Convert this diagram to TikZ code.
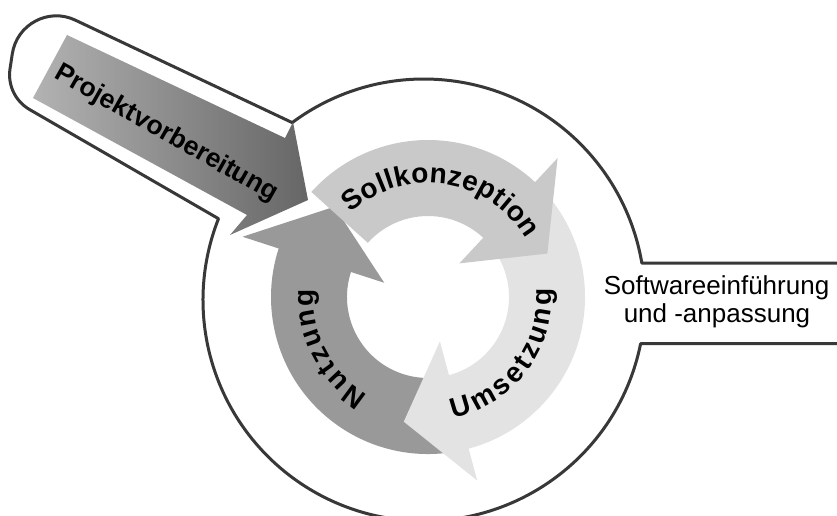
\documentclass[tikz,border=0pt]{standalone}
\usepackage{fontspec}
\newfontfamily\lblfamily{Liberation Sans}
\newcommand\ringfont{\lblfamily\bfseries\fontsize{28}{32}\selectfont}
\newcommand\pvfont{\lblfamily\bfseries\fontsize{26.5}{30}\selectfont}
\newcommand\swfont{\lblfamily\fontsize{26}{29}\selectfont}
\usetikzlibrary{decorations.text}
\begin{document}
\begin{tikzpicture}[x=1pt,y=1pt,
  outline/.style={draw=black!78, line width=3pt, line join=round},
  nutfill/.style={fill=black!40},
  umsfill/.style={fill=black!11},
  sollfill/.style={fill=black!21},
]
\clip (0,0) rectangle (837,-516);
\fill[white] (0,0) rectangle (837,-516);

% outer outline: big circle with the two callouts
\draw[outline] (292.2,-122.6) arc[start angle=126.6, end angle=9.6, radius=221]
  -- (850,-263.1) -- (850,-343.7) -- (640.6,-343.7)
  arc[start angle=-11.4, end angle=-201.6, radius=221]
  -- (29.7,-109.6) .. controls (15.4,-101.4) and (7.6,-85.3) .. (10,-69)
  -- (12.3,-53.8) .. controls (16.7,-24.5) and (48.2,-7.4) .. (75,-20)
  -- cycle;

% cycle arrows
\begin{scope}[shift={(428,-297)}]
  \fill[nutfill] (-80:157) arc[start angle=-80, end angle=-198, radius=157]
    -- (-198:195) -- (-224:130) -- (-198:46) -- (-198:81)
    arc[start angle=-198, end angle=-80, radius=81] -- cycle;
  \fill[umsfill] (42:157) arc[start angle=42, end angle=-75, radius=157]
    -- (-75:190) -- (-101:127) -- (-75:46) -- (-75:81)
    arc[start angle=-75, end angle=42, radius=81] -- cycle;
  \fill[sollfill] (138:157) arc[start angle=138, end angle=47, radius=157]
    -- (47:190) -- (20:127) -- (47:46) -- (47:81)
    arc[start angle=47, end angle=138, radius=81] -- cycle;

  \path[decorate, decoration={text along path, text align={fit to path},
      text={|\ringfont|Sollkonzeption}}]
    (132.6:114) arc[start angle=132.6, end angle=30.5, radius=114];
  \path[decorate, decoration={text along path, text align={fit to path},
      text={|\ringfont|Umsetzung}}]
    (-78.1:124) arc[start angle=-78.1, end angle=3.8, radius=124];
  \path[decorate, decoration={text along path, text align={fit to path},
      text={|\ringfont|Nutzung}}]
    (238.6:115) arc[start angle=238.6, end angle=176, radius=115];
\end{scope}

% Projektvorbereitung arrow
\shade[left color=black!30, right color=black!60]
  (67,-35) -- (285,-138) -- (293,-122) -- (308,-200) -- (230,-235)
  -- (247,-215) -- (33,-98) -- cycle;
\node[font=\pvfont, rotate=-29.5, inner sep=0] (pv) at (166,-134) {Projektvorbereitung};

% right callout text
\node[font=\swfont, anchor=base, inner sep=0] (sw1) at (716.5,-294) {Softwareeinführung};
\node[font=\swfont, anchor=base, inner sep=0] (sw2) at (717,-322) {und -anpassung};
\end{tikzpicture}
\end{document}
